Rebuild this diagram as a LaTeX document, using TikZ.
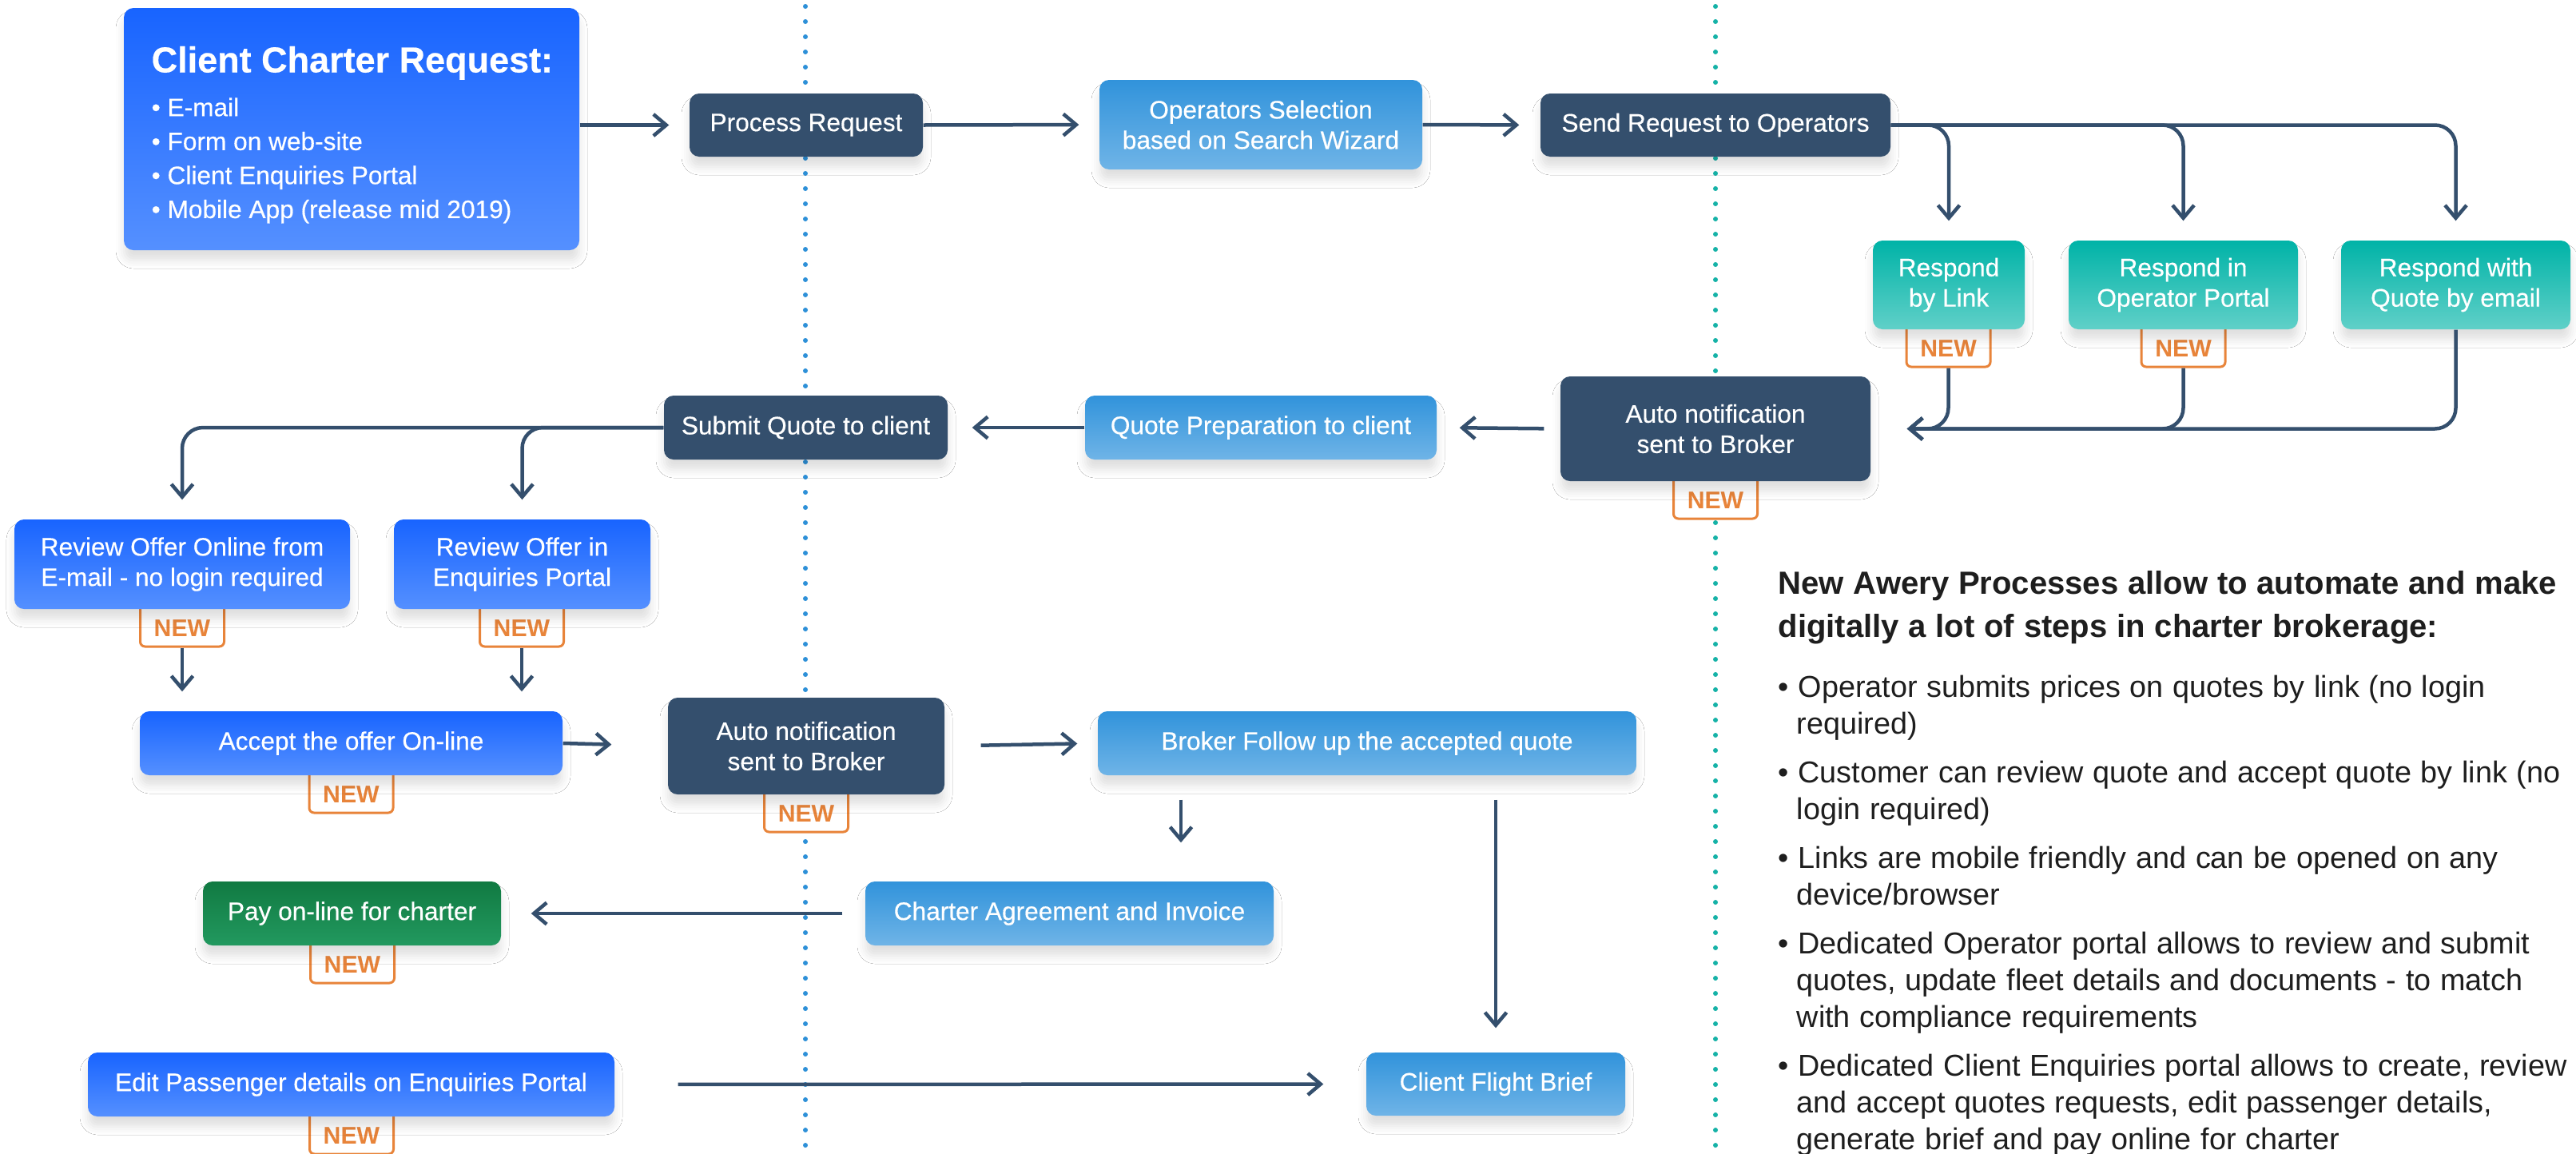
\documentclass[tikz,border=0pt]{standalone}
\usepackage{fontspec}
\setmainfont{Liberation Sans}
\newfontfamily\medfont{Liberation Sans}[FakeBold=0.4]
\usetikzlibrary{arrows.meta,shadows.blur}
\definecolor{navy}{HTML}{344F6D}
\definecolor{blueA}{HTML}{1864FF}
\definecolor{blueB}{HTML}{5590FF}
\definecolor{skyA}{HTML}{3193DB}
\definecolor{skyB}{HTML}{6FB4E7}
\definecolor{tealA}{HTML}{00B3A7}
\definecolor{tealB}{HTML}{60D0C8}
\definecolor{greenA}{HTML}{117A42}
\definecolor{greenB}{HTML}{22995F}
\definecolor{neworange}{HTML}{E8843A}
\definecolor{dotblue}{HTML}{2D90D8}
\definecolor{dotteal}{HTML}{15B2A7}
\definecolor{ink}{HTML}{1E1E1E}

\begin{document}
\begin{tikzpicture}[
  card/.style={rectangle, rounded corners=0.12cm, text=white, align=center, inner sep=0pt,
    font=\medfont\fontsize{9}{10.8}\selectfont,
    blur shadow={shadow xshift=0cm, shadow yshift=-0.13cm, shadow blur radius=0.1cm, shadow opacity=12}},
  darkbox/.style={card, fill=navy},
  bluebox/.style={card, top color=blueA, bottom color=blueB},
  skybox/.style={card, top color=skyA, bottom color=skyB},
  tealbox/.style={card, top color=tealA, bottom color=tealB},
  greenbox/.style={card, top color=greenA, bottom color=greenB},
  newbox/.style={rectangle, draw=neworange, fill=white, line width=0.03cm, rounded corners=0.06cm,
    text=neworange, font=\bfseries\fontsize{8.6}{10}\selectfont, inner sep=0pt,
    minimum width=1.05cm, minimum height=0.57cm, text height=0.4cm, text depth=0.08cm},
  arr/.style={draw=navy, line width=0.045cm, line join=round, -{Straight Barb[length=0.16cm, width=0.27cm]}},
  split/.style={arr, rounded corners=0.26cm},
  lane/.style={line width=0.06cm, line cap=round, dash pattern=on 0pt off 0.19cm}
]
  \path[fill=white, use as bounding box] (0, 0) rectangle (32.24, -14.43);

  % Lanes
  \coordinate (lane-1-top) at (10.08, -0.08);
  \coordinate (lane-1-bot) at (10.08, -14.43);
  \coordinate (lane-2-top) at (21.47, -0.08);
  \coordinate (lane-2-bot) at (21.47, -14.43);
  \draw[lane, dotblue] (lane-1-top) -- (lane-1-bot);
  \draw[lane, dotteal] (lane-2-top) -- (lane-2-bot);

  % Badges
  \node (new-1) [newbox] at (24.385, -4.305) {NEW};
  \node (new-2) [newbox] at (27.325, -4.305) {NEW};
  \node (new-3) [newbox] at (21.47, -6.205) {NEW};
  \node (new-4) [newbox] at (2.28, -7.805) {NEW};
  \node (new-5) [newbox] at (6.53, -7.805) {NEW};
  \node (new-6) [newbox] at (4.395, -9.885) {NEW};
  \node (new-7) [newbox] at (10.09, -10.125) {NEW};
  \node (new-8) [newbox] at (4.41, -12.015) {NEW};
  \node (new-9) [newbox] at (4.40, -14.155) {NEW};

  % Nodes
  \node (req) [bluebox, minimum width=5.7cm, minimum height=3.03cm] at (4.40, -1.615) {};
  \node (req-text) [anchor=north west, align=left, inner sep=0pt, text=white,
    font=\medfont\fontsize{9}{12.1}\selectfont] at (1.89, -0.572) {%
    {\bfseries\fontsize{12.8}{15}\selectfont Client Charter Request:}\\[3.5pt]
    \textbullet\ E-mail\\
    \textbullet\ Form on web-site\\
    \textbullet\ Client Enquiries Portal\\
    \textbullet\ Mobile App (release mid 2019)};
  \node (proc) [darkbox, minimum width=2.92cm, minimum height=0.79cm] at (10.09, -1.565) {Process Request};
  \node (sel) [skybox, minimum width=4.04cm, minimum height=1.12cm] at (15.78, -1.56) {Operators Selection\\based on Search Wizard};
  \node (send) [darkbox, minimum width=4.38cm, minimum height=0.79cm] at (21.47, -1.565) {Send Request to Operators};
  \node (r-1) [tealbox, minimum width=1.9cm, minimum height=1.11cm] at (24.39, -3.565) {Respond\\by Link};
  \node (r-2) [tealbox, minimum width=2.87cm, minimum height=1.11cm] at (27.325, -3.565) {Respond in\\Operator Portal};
  \node (r-3) [tealbox, minimum width=2.87cm, minimum height=1.11cm] at (30.735, -3.565) {Respond with\\Quote by email};
  \node (auto-1) [darkbox, minimum width=3.88cm, minimum height=1.31cm] at (21.47, -5.365) {Auto notification\\sent to Broker};
  \node (prep) [skybox, minimum width=4.4cm, minimum height=0.8cm] at (15.78, -5.35) {Quote Preparation to client};
  \node (submit) [darkbox, minimum width=3.55cm, minimum height=0.8cm] at (10.085, -5.35) {Submit Quote to client};
  \node (rev-1) [bluebox, minimum width=4.2cm, minimum height=1.12cm] at (2.28, -7.06) {Review Offer Online from\\E-mail - no login required};
  \node (rev-2) [bluebox, minimum width=3.21cm, minimum height=1.12cm] at (6.535, -7.06) {Review Offer in\\Enquiries Portal};
  \node (accept) [bluebox, minimum width=5.29cm, minimum height=0.8cm] at (4.395, -9.3) {Accept the offer On-line};
  \node (auto-2) [darkbox, minimum width=3.46cm, minimum height=1.21cm] at (10.09, -9.335) {Auto notification\\sent to Broker};
  \node (follow) [skybox, minimum width=6.74cm, minimum height=0.8cm] at (17.11, -9.3) {Broker Follow up the accepted quote};
  \node (agree) [skybox, minimum width=5.11cm, minimum height=0.8cm] at (13.385, -11.43) {Charter Agreement and Invoice};
  \node (pay) [greenbox, minimum width=3.73cm, minimum height=0.8cm] at (4.405, -11.43) {Pay on-line for charter};
  \node (edit) [bluebox, minimum width=6.59cm, minimum height=0.8cm] at (4.395, -13.57) {Edit Passenger details on Enquiries Portal};
  \node (brief) [skybox, minimum width=3.24cm, minimum height=0.79cm] at (18.72, -13.565) {Client Flight Brief};

  % Arrows
  \draw[arr, shorten >=0.25cm] (req.east |- proc.west) -- (proc.west);
  \draw[arr, shorten >=0.25cm] (proc.east) -- (sel.west);
  \draw[arr, shorten >=0.26cm] (sel.east) -- (send.west);
  \draw[split, shorten >=0.24cm] (send.east) -| (r-1.north);
  \draw[split, shorten >=0.24cm] (send.east) -| (r-2.north);
  \draw[split, shorten >=0.24cm] (send.east) -| (r-3.north);
  \draw[split, shorten >=0.45cm] (new-1.south) |- (auto-1.east);
  \draw[split, shorten >=0.45cm] (new-2.south) |- (auto-1.east);
  \draw[split, shorten >=0.45cm] (r-3.south) |- (auto-1.east);
  \draw[arr, shorten <=0.2cm, shorten >=0.28cm] (auto-1.west) -- (prep.east);
  \draw[arr, shorten >=0.3cm] (prep.west) -- (submit.east);
  \draw[split, shorten >=0.24cm] (submit.west) -| (rev-1.north);
  \draw[split, shorten >=0.24cm] (submit.west) -| (rev-2.north);
  \draw[arr, shorten >=0.24cm] (new-4.south) -- (new-4.south |- accept.north);
  \draw[arr, shorten >=0.24cm] (new-5.south) -- (new-5.south |- accept.north);
  \draw[arr, shorten >=0.7cm] (accept.east) -- (auto-2.west);
  \draw[arr, shorten <=0.45cm, shorten >=0.25cm] (auto-2.east) -- (follow.west);
  \draw[arr, shorten <=0.3cm, shorten >=0.48cm] ([xshift=-2.33cm]follow.south) -- ([xshift=-2.33cm]follow.south |- agree.north);
  \draw[arr, shorten <=0.3cm, shorten >=0.3cm] (follow.south -| brief.north) -- (brief.north);
  \draw[arr, shorten <=0.28cm, shorten >=0.37cm] (agree.west) -- (pay.east);
  \draw[arr, shorten <=0.79cm, shorten >=0.53cm] (edit.east) -- (brief.west);

  % Notes
  \node (note) [anchor=north west, text width=10.5cm, align=left, inner sep=0pt, text=ink] at (22.25, -7.14) {%
    \parindent=0pt
    {\bfseries\fontsize{11.4}{15.4}\selectfont New Awery Processes allow to automate and make\\
      digitally a lot of steps in charter brokerage:\par}
    \vspace{3.95pt}
    \fontsize{10.75}{13.1}\selectfont\parskip=4.25pt
    \hangindent=0.23cm\hangafter=1 \textbullet\ Operator submits prices on quotes by link (no login\newline
      required)\par
    \hangindent=0.23cm\hangafter=1 \textbullet\ Customer can review quote and accept quote by link (no\newline
      login required)\par
    \hangindent=0.23cm\hangafter=1 \textbullet\ Links are mobile friendly and can be opened on any\newline
      device/browser\par
    \hangindent=0.23cm\hangafter=1 \textbullet\ Dedicated Operator portal allows to review and submit\newline
      quotes, update fleet details and documents - to match\newline
      with compliance requirements\par
    \hangindent=0.23cm\hangafter=1 \textbullet\ Dedicated Client Enquiries portal allows to create, review\newline
      and accept quotes requests, edit passenger details,\newline
      generate brief and pay online for charter\par};
\end{tikzpicture}
\end{document}
